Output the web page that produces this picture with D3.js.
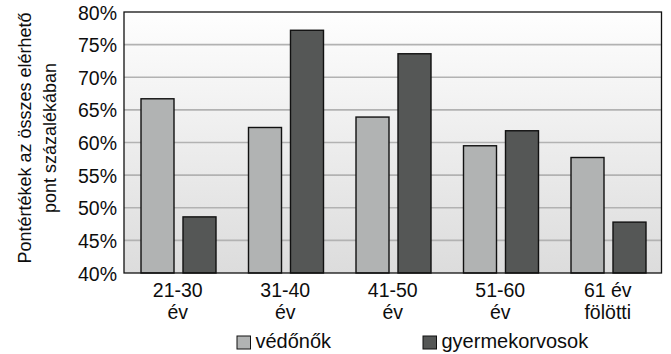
<!DOCTYPE html>
<html>
<head>
<meta charset="utf-8">
<script src="https://cdn.jsdelivr.net/npm/d3@7"></script>
<style>
  html, body { margin: 0; padding: 0; background: #ffffff; }
  svg { display: block; font-family: "Liberation Sans", Arial, sans-serif; }
</style>
</head>
<body>
<svg id="chart" width="671" height="354"></svg>
<script>
// Age groups (two-line labels) and the two professional groups
const categories = ["21-30 év", "31-40 év", "41-50 év", "51-60 év", "61 év fölötti"];
const categoryLines = [["21-30", "év"], ["31-40", "év"], ["41-50", "év"], ["51-60", "év"], ["61 év", "fölötti"]];
const seriesNames = ["védőnők", "gyermekorvosok"];
// Scores as percentage of the maximum achievable points
const vedonok = [66.7, 62.3, 63.9, 59.5, 57.7];
const gyermekorvosok = [48.6, 77.2, 73.6, 61.8, 47.8];
const yTicks = [40, 45, 50, 55, 60, 65, 70, 75, 80];
const seriesColors = ["#b1b3b3", "#555756"];

const textColor = "#0d0d0d";
const svg = d3.select("#chart");
const margin = { left: 124, top: 12, right: 9.5, bottom: 81 };
const W = 671, H = 354;
const x0 = margin.left, x1 = W - margin.right;
const y0 = H - margin.bottom, y1 = margin.top;

const x = d3.scaleBand().domain(categories).range([x0, x1]);
const xs = d3.scaleBand().domain(seriesNames).range([17, 92]).paddingInner(0.214);
const y = d3.scaleLinear().domain([40, 80]).range([y0, y1]);

// Plot background gradient
const defs = svg.append("defs");
const grad = defs.append("linearGradient").attr("id", "bg").attr("x1", 0).attr("y1", 0).attr("x2", 0).attr("y2", 1);
grad.append("stop").attr("offset", "0%").attr("stop-color", "#fefefe");
grad.append("stop").attr("offset", "100%").attr("stop-color", "#dcdcdc");
svg.append("rect").attr("x", x0).attr("y", y1).attr("width", x1 - x0).attr("height", y0 - y1).attr("fill", "url(#bg)");

// Horizontal gridlines
svg.append("g").selectAll("line").data(yTicks.filter(t => t > 40 && t < 80)).join("line")
  .attr("x1", x0).attr("x2", x1)
  .attr("y1", d => y(d)).attr("y2", d => y(d))
  .attr("stroke", "#b2b2b2").attr("stroke-width", 1.6);

// Bars
const data = [vedonok, gyermekorvosok];
const groups = svg.append("g").selectAll("g").data(categories).join("g")
  .attr("transform", d => `translate(${x(d)},0)`);
groups.selectAll("rect").data((d, i) => seriesNames.map((s, k) => ({ s, k, v: data[k][i] }))).join("rect")
  .attr("x", d => xs(d.s))
  .attr("width", xs.bandwidth())
  .attr("y", d => y(d.v))
  .attr("height", d => y0 - y(d.v))
  .attr("fill", d => seriesColors[d.k])
  .attr("stroke", "#111")
  .attr("stroke-width", 1.4);

// Plot frame
svg.append("rect").attr("x", x0).attr("y", y1).attr("width", x1 - x0).attr("height", y0 - y1)
  .attr("fill", "none").attr("stroke", "#111").attr("stroke-width", 1.3);

// Y axis tick labels
const yAxis = d3.axisLeft(y).tickValues(yTicks).tickFormat(d => d + "%").tickSize(0).tickPadding(7);
const gy = svg.append("g").attr("transform", `translate(${x0},0)`).call(yAxis);
gy.select(".domain").remove();
gy.selectAll("text").attr("font-size", 19.5).attr("fill", textColor)
  .attr("font-family", "'Liberation Sans', Arial, sans-serif").attr("dy", "0.36em");

// X axis labels (two lines each)
const xl = svg.append("g").selectAll("text").data(categories).join("text")
  .attr("x", d => x(d) + x.bandwidth() / 2)
  .attr("text-anchor", "middle").attr("font-size", 19.5).attr("fill", textColor);
xl.selectAll("tspan").data((d, i) => categoryLines[i]).join("tspan")
  .attr("x", function () { return d3.select(this.parentNode).attr("x"); })
  .attr("y", (d, j) => 297 + j * 21.5)
  .text(d => d);

// Y axis title
const yt = svg.append("text").attr("transform", "translate(0,138) rotate(-90)")
  .attr("text-anchor", "middle").attr("font-size", 18).attr("fill", textColor);
yt.append("tspan").attr("x", 0).attr("y", 31).text("Pontértékek az összes elérhető");
yt.append("tspan").attr("x", 0).attr("y", 56).text("pont százalékában");

// Legend
const legendX = [237, 423];
const lg = svg.append("g").selectAll("g").data(seriesNames).join("g")
  .attr("transform", (d, i) => `translate(${legendX[i]},336)`);
lg.append("rect").attr("width", 13.5).attr("height", 13)
  .attr("fill", (d, i) => seriesColors[i]).attr("stroke", "#111").attr("stroke-width", 1);
lg.append("text").attr("x", 18.5).attr("y", 12.3).attr("font-size", 20).attr("fill", textColor).text(d => d);
</script>
</body>
</html>
